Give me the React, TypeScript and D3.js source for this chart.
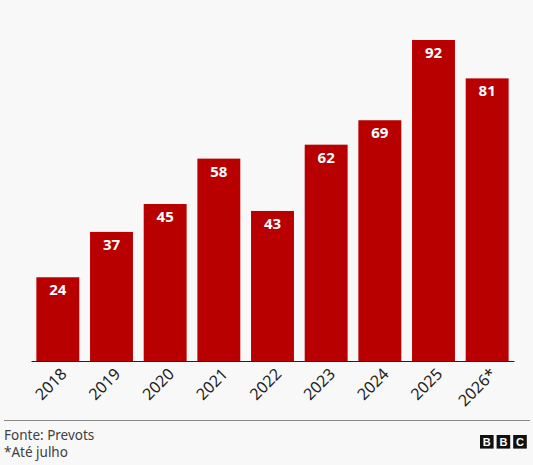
import { useRef, useEffect } from 'react';
import * as d3 from 'd3';

const YEARS = ['2018', '2019', '2020', '2021', '2022', '2023', '2024', '2025', '2026*'];
const CASES = [24, 37, 45, 58, 43, 62, 69, 92, 81];
const FOOTNOTES = ['Fonte: Prevots', '*Até julho'];
const LOGO_LETTERS = ['B', 'B', 'C'];

const WIDTH = 533;
const HEIGHT = 465;
const RED = '#b80000';
const FONT = "'Noto Sans', 'Open Sans', Arial, sans-serif";

function drawChart(svgEl: SVGSVGElement) {
  const svg = d3.select(svgEl);
  svg.selectAll('*').remove();

  svg.append('rect').attr('width', WIDTH).attr('height', HEIGHT).attr('fill', '#f8f8f8');

  const x = d3.scaleBand<string>()
    .domain(YEARS)
    .range([31, 514])
    .paddingInner(0.2)
    .paddingOuter(0.1);

  const y = d3.scaleLinear()
    .domain([0, d3.max(CASES) ?? 92])
    .range([361, 40]);

  const data = YEARS.map((year, i) => ({ year, value: CASES[i] }));

  svg.append('g')
    .selectAll('rect')
    .data(data)
    .join('rect')
    .attr('x', d => x(d.year) ?? 0)
    .attr('y', d => y(d.value))
    .attr('width', x.bandwidth())
    .attr('height', d => y(0) - y(d.value))
    .attr('fill', RED);

  svg.append('g')
    .selectAll('text')
    .data(data)
    .join('text')
    .attr('x', d => (x(d.year) ?? 0) + x.bandwidth() / 2)
    .attr('y', d => y(d.value) + 18)
    .attr('text-anchor', 'middle')
    .attr('fill', '#fff')
    .attr('font-family', FONT)
    .attr('font-weight', 700)
    .attr('font-size', 15)
    .text(d => d.value);

  // x axis: baseline + rotated year labels
  const axis = svg.append('g')
    .attr('transform', `translate(0, ${y(0)})`)
    .call(d3.axisBottom(x).tickSize(0).tickPadding(0));
  axis.select('.domain').attr('stroke', '#222').attr('stroke-width', 1);
  axis.selectAll<SVGTextElement, string>('text')
    .attr('font-family', FONT)
    .attr('font-size', 16)
    .attr('fill', '#222')
    .attr('text-anchor', 'end')
    .attr('dy', null)
    .attr('transform', 'translate(10, 14) rotate(-45)');

  // footer
  svg.append('line')
    .attr('x1', 4).attr('x2', 530)
    .attr('y1', 420.5).attr('y2', 420.5)
    .attr('stroke', '#8a8a8a')
    .attr('stroke-width', 1);

  svg.append('g')
    .selectAll('text')
    .data(FOOTNOTES)
    .join('text')
    .attr('x', 4)
    .attr('y', (_d, i) => 440 + i * 17)
    .attr('font-family', FONT)
    .attr('font-size', 13.5)
    .attr('fill', '#404040')
    .text(d => d);

  const logo = svg.append('g').attr('transform', 'translate(480, 435)');
  const cell = logo.selectAll('g')
    .data(LOGO_LETTERS)
    .join('g')
    .attr('transform', (_d, i) => `translate(${i * 16.6}, 0)`);
  cell.append('rect').attr('width', 13.6).attr('height', 13.6).attr('fill', '#111');
  cell.append('text')
    .attr('x', 6.8)
    .attr('y', 11)
    .attr('text-anchor', 'middle')
    .attr('fill', '#fff')
    .attr('font-family', "Arial, 'Liberation Sans', sans-serif")
    .attr('font-weight', 700)
    .attr('font-size', 11)
    .text(d => d);
}

export default function App() {
  const svgRef = useRef<SVGSVGElement>(null);

  useEffect(() => {
    if (svgRef.current) drawChart(svgRef.current);
  }, []);

  return (
    <div style={{ position: 'fixed', left: 0, top: 0, width: WIDTH, height: HEIGHT }}>
      <svg ref={svgRef} width={WIDTH} height={HEIGHT} style={{ display: 'block' }} />
    </div>
  );
}
